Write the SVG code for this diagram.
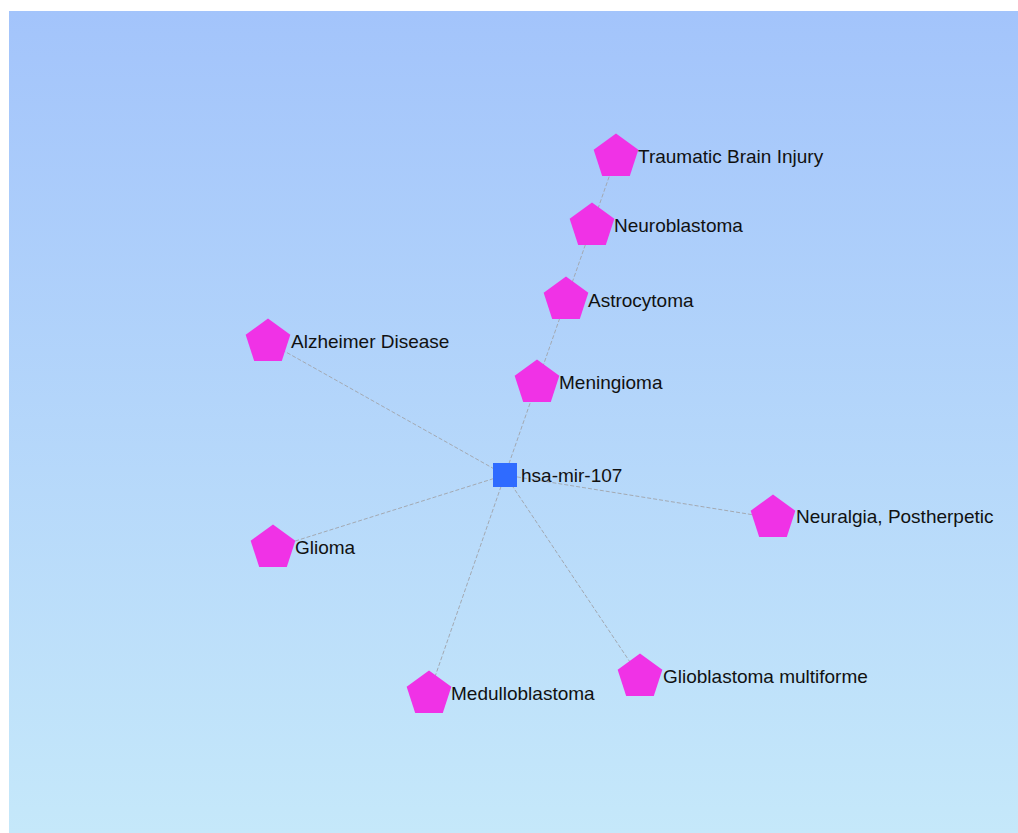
<svg xmlns="http://www.w3.org/2000/svg" width="1018" height="833" viewBox="0 0 1018 833">
<defs>
<linearGradient id="bg" x1="0" y1="0" x2="0" y2="1">
<stop offset="0" stop-color="#a3c4fb"/>
<stop offset="1" stop-color="#c5e8fa"/>
</linearGradient>
<polygon id="pent" points="0,-23.5 22.35,-7.26 13.81,19.01 -13.81,19.01 -22.35,-7.26"/>
<style>
.edge{stroke:#a3a9b2;stroke-width:1;stroke-dasharray:4 2;fill:none}
.pent{fill:#f032e6}
.hub{fill:#2f6bff}
.lbl{font-family:"Liberation Sans",Arial,sans-serif;font-size:19px;fill:#111}
</style>
</defs>
<rect x="0" y="0" width="1018" height="833" fill="#ffffff"/>
<rect x="9" y="11" width="1009" height="822" fill="url(#bg)"/>
<g id="edges">
<line class="edge" x1="505" y1="475" x2="616" y2="157"/>
<line class="edge" x1="505" y1="475" x2="268" y2="342"/>
<line class="edge" x1="505" y1="475" x2="773" y2="518"/>
<line class="edge" x1="505" y1="475" x2="273" y2="548"/>
<line class="edge" x1="505" y1="475" x2="429" y2="694"/>
<line class="edge" x1="505" y1="475" x2="640" y2="677"/>
</g>
<g id="n-traumatic"><use href="#pent" class="pent" x="616" y="157"/><text class="lbl" x="638" y="163">Traumatic Brain Injury</text></g>
<g id="n-neuroblastoma"><use href="#pent" class="pent" x="592" y="226"/><text class="lbl" x="614" y="232">Neuroblastoma</text></g>
<g id="n-astrocytoma"><use href="#pent" class="pent" x="566" y="300"/><text class="lbl" x="588" y="307">Astrocytoma</text></g>
<g id="n-meningioma"><use href="#pent" class="pent" x="537" y="383"/><text class="lbl" x="559" y="389">Meningioma</text></g>
<g id="n-alzheimer"><use href="#pent" class="pent" x="268" y="342"/><text class="lbl" x="291" y="348">Alzheimer Disease</text></g>
<g id="n-neuralgia"><use href="#pent" class="pent" x="773" y="518"/><text class="lbl" x="796" y="523">Neuralgia, Postherpetic</text></g>
<g id="n-glioma"><use href="#pent" class="pent" x="273" y="548"/><text class="lbl" x="295" y="554">Glioma</text></g>
<g id="n-medulloblastoma"><use href="#pent" class="pent" x="429" y="694"/><text class="lbl" x="451" y="700">Medulloblastoma</text></g>
<g id="n-glioblastoma"><use href="#pent" class="pent" x="640" y="677"/><text class="lbl" x="663" y="683">Glioblastoma multiforme</text></g>
<g id="n-hub"><rect class="hub" x="493" y="463" width="24" height="24"/><text class="lbl" x="521" y="482">hsa-mir-107</text></g>
</svg>
